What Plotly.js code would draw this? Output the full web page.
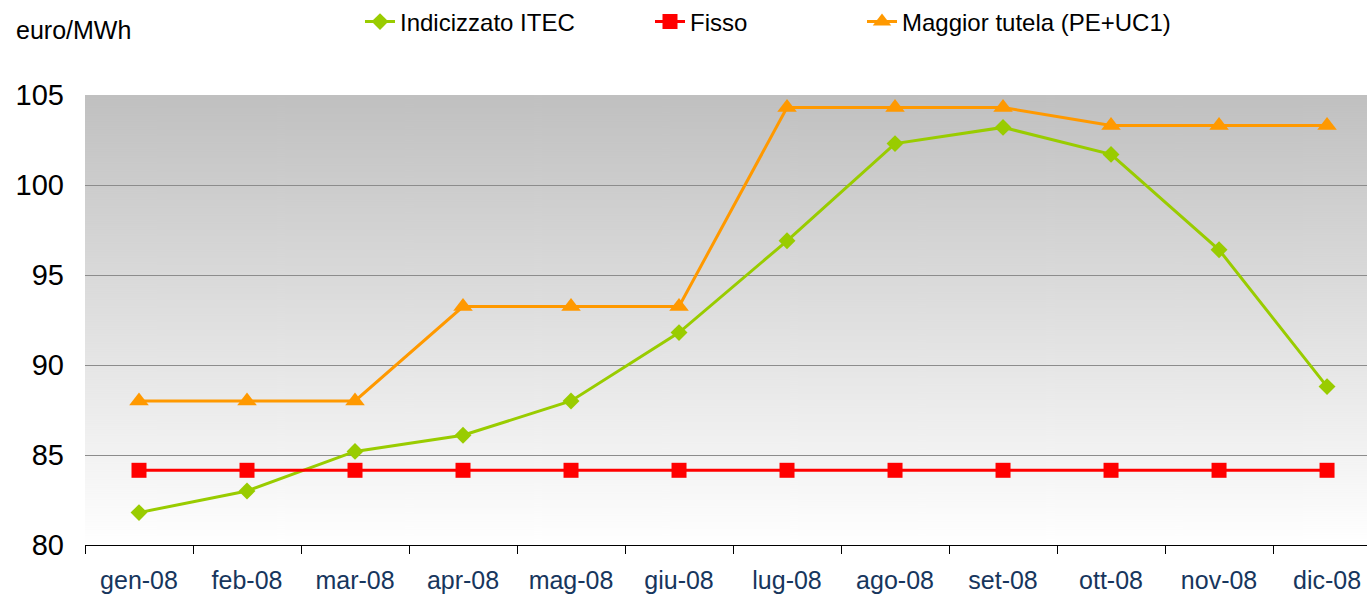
<!DOCTYPE html>
<html>
<head>
<meta charset="utf-8">
<script src="https://cdn.plot.ly/plotly-3.0.1.min.js"></script>
<style>html,body{margin:0;padding:0;background:#fff;overflow:hidden}#chart{width:1367px;height:595px}</style>
</head>
<body>
<div id="chart"></div>
<script>
const months = ["gen-08","feb-08","mar-08","apr-08","mag-08","giu-08","lug-08","ago-08","set-08","ott-08","nov-08","dic-08"];
const indicizzato = [81.8, 83.0, 85.2, 86.1, 88.0, 91.8, 96.9, 102.3, 103.2, 101.7, 96.4, 88.8];
const fisso = [84.15, 84.15, 84.15, 84.15, 84.15, 84.15, 84.15, 84.15, 84.15, 84.15, 84.15, 84.15];
const maggiorTutela = [88.0, 88.0, 88.0, 93.25, 93.25, 93.25, 104.3, 104.3, 104.3, 103.3, 103.3, 103.3];
const seriesNames = ["Indicizzato ITEC", "Fisso", "Maggior tutela (PE+UC1)"];
const yTicks = [80, 85, 90, 95, 100, 105];

// background gradient image
const cv = document.createElement('canvas');
cv.width = 10; cv.height = 450;
const ctx = cv.getContext('2d');
const g = ctx.createLinearGradient(0, 0, 0, 450);
g.addColorStop(0, '#c0c0c0');
g.addColorStop(1, '#ffffff');
ctx.fillStyle = g;
ctx.fillRect(0, 0, 10, 450);
const bgUrl = cv.toDataURL('image/png');

const traces = [
  {x: months, y: indicizzato, name: seriesNames[0], type: 'scatter', mode: 'lines+markers',
   line: {color: '#99cc00', width: 3}, marker: {symbol: 'diamond', size: 13, color: '#99cc00'}, legend: 'legend'},
  {x: months, y: fisso, name: seriesNames[1], type: 'scatter', mode: 'lines+markers',
   line: {color: '#ff0000', width: 3}, marker: {symbol: 'square', size: 15, color: '#ff0000'}, legend: 'legend2'},
  {x: months, y: maggiorTutela, name: seriesNames[2], type: 'scatter', mode: 'lines+markers',
   line: {color: '#ff9900', width: 3}, marker: {symbol: 'triangle-up', size: 17, color: '#ff9900'}, legend: 'legend3'}
];

const legFont = {family: 'Liberation Sans, Arial, sans-serif', size: 24, color: '#000'};
const legY = 1 - 22/595;
function leg(xpx) {
  return {xref: 'container', yref: 'container', x: xpx/1367, y: legY, xanchor: 'left', yanchor: 'middle',
          orientation: 'h', font: legFont, bgcolor: 'rgba(0,0,0,0)', borderwidth: 0};
}

const layout = {
  width: 1367, height: 595,
  margin: {l: 85, r: 0, t: 95, b: 50, pad: 0},
  paper_bgcolor: '#ffffff',
  plot_bgcolor: 'rgba(0,0,0,0)',
  font: {family: 'Liberation Sans, Arial, sans-serif'},
  showlegend: true,
  legend: leg(360),
  legend2: leg(650),
  legend3: leg(862),
  xaxis: {
    type: 'category', range: [-0.5, 11.37], tickson: 'boundaries',
    ticks: 'outside', ticklen: 8, tickcolor: '#000', tickwidth: 1,
    showline: true, linecolor: '#000', linewidth: 1, showgrid: false, zeroline: false,
    tickfont: {family: 'Liberation Sans, Arial, sans-serif', size: 25, color: '#17365d'},
    ticklabelstandoff: 13
  },
  yaxis: {
    range: [80, 105], tickvals: yTicks, ticktext: yTicks.map(String),
    showgrid: true, gridcolor: '#8c8c8c', gridwidth: 1, zeroline: false, showline: false,
    ticks: '', tickfont: {family: 'Liberation Sans, Arial, sans-serif', size: 29, color: '#000'},
    ticklabelstandoff: 20
  },
  images: [{source: bgUrl, xref: 'paper', yref: 'paper', x: 0, y: 1, sizex: 1, sizey: 1,
            sizing: 'stretch', layer: 'below', xanchor: 'left', yanchor: 'top'}],
  annotations: [{text: 'euro/MWh', xref: 'paper', yref: 'paper', x: (14-85)/1282, y: (545-30)/450,
                 xanchor: 'left', yanchor: 'middle', showarrow: false,
                 font: {family: 'Liberation Sans, Arial, sans-serif', size: 25, color: '#000'}}]
};

Plotly.newPlot('chart', traces, layout, {displayModeBar: false, staticPlot: true});
</script>
</body>
</html>
